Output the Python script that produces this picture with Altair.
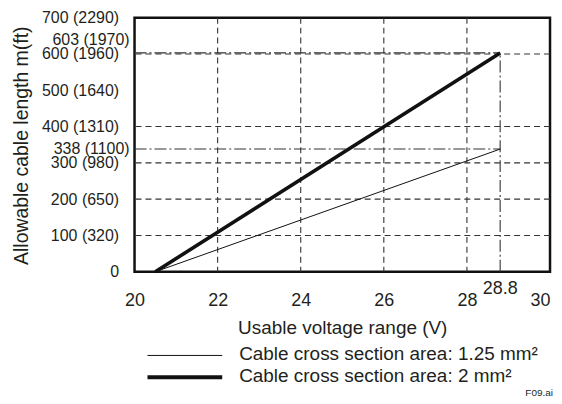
import altair as alt
import pandas as pd

# ---------------- data ----------------
voltage = [20.5, 28.8]
length_125 = [0, 338]
length_2 = [0, 603]
series = ["Cable cross section area: 1.25 mm\u00b2", "Cable cross section area: 2 mm\u00b2"]

x_ticks = [20, 22, 24, 26, 28, 30]
y_ticks = [0, 100, 200, 300, 400, 500, 600, 700]
y_ft = ["", "320", "650", "980", "1310", "1640", "1960", "2290"]

h_grid = [100, 200, 300, 400, 600]
v_grid = [22, 24, 26, 28]

max_v = 28.8
marked_m = [338, 603]
marked_ft = ["1100", "1970"]
note = "F09.ai"

# ---------------- style ----------------
W, H = 417, 255
FONT = "Liberation Sans"
TXT = "#231f20"
DASH = [6, 4]
DASHDOT = [12, 3, 2, 3]

label_expr = ""
for v, ft in zip(y_ticks, y_ft):
    lab = f"{v}" if ft == "" else f"{v} ({ft})"
    label_expr += f"datum.value == {v} ? '{lab}' : "
label_expr += "''"

xscale = alt.Scale(domain=[20, 30], nice=False, zero=False)
yscale = alt.Scale(domain=[0, 700], nice=False, zero=False)

xaxis = alt.Axis(values=x_ticks, title="Usable voltage range (V)", grid=False, ticks=False,
                 domain=False, labelFontSize=18, labelPadding=20, labelColor=TXT, labelFont=FONT,
                 labelFlush=False, labelOverlap=False, labelBound=False,
                 labelAlign={"condition": {"test": f"datum.value >= {x_ticks[-1]}", "value": "right"},
                             "value": "center"},
                 titleFont=FONT, titleFontSize=19, titleFontWeight="normal", titleColor=TXT,
                 titleX=W / 2, titleY=56, titleBaseline="middle", titleAlign="center")
yaxis = alt.Axis(values=y_ticks, labelExpr=label_expr, title="Allowable cable length  m(ft)",
                 grid=False, ticks=False, domain=False, labelFontSize=16, labelPadding=16,
                 labelColor=TXT, labelFont=FONT, labelOverlap=False, labelBaseline="middle",
                 labelFlush=False,
                 titleFont=FONT, titleFontSize=19.5, titleFontWeight="normal", titleColor=TXT,
                 titleX=-113, titleY=128, titleAngle=270, titleAlign="center",
                 titleBaseline="middle")


def X(field="v"):
    return alt.X(f"{field}:Q", scale=xscale, axis=xaxis)


def Y(field="m"):
    return alt.Y(f"{field}:Q", scale=yscale, axis=yaxis)


# grid lines
hgrid = alt.Chart(pd.DataFrame({"m": h_grid})).mark_rule(
    color="#333", strokeWidth=1.1, strokeDash=DASH).encode(y=Y())
vgrid = alt.Chart(pd.DataFrame({"v": v_grid})).mark_rule(
    color="#333", strokeWidth=1.1, strokeDash=DASH).encode(x=X())

# dash-dot marker lines
hmark = alt.Chart(pd.DataFrame({"v": [20, 20], "v2": [max_v, max_v], "m": marked_m})).mark_rule(
    color="#333", strokeWidth=1.1, strokeDash=DASHDOT).encode(x=X(), x2="v2:Q", y=Y())
vmark = alt.Chart(pd.DataFrame({"v": [max_v], "m0": [0], "m": [max(marked_m)]})).mark_rule(
    color="#333", strokeWidth=1.1, strokeDash=DASHDOT).encode(x=X(), y=Y("m0"), y2="m:Q")

# data lines
thin = alt.Chart(pd.DataFrame({"v": voltage, "m": length_125})).mark_line(
    color="#111", strokeWidth=1).encode(x=X(), y=Y())
thick = alt.Chart(pd.DataFrame({"v": voltage, "m": length_2})).mark_line(
    color="#111", strokeWidth=3.6).encode(x=X(), y=Y())

# extra y labels
lab603 = alt.Chart(pd.DataFrame({"m": [marked_m[1]], "t": [f"{marked_m[1]} ({marked_ft[1]})"]})).mark_text(
    align="right", baseline="middle", dy=-13, fontSize=16, font=FONT, color=TXT).encode(
    x=alt.value(-5), y=Y(), text="t:N")
lab338 = alt.Chart(pd.DataFrame({"m": [marked_m[0]], "t": [f"{marked_m[0]} ({marked_ft[0]})"]})).mark_text(
    align="right", baseline="middle", dy=0, fontSize=16, font=FONT, color=TXT).encode(
    x=alt.value(-5), y=Y(), text="t:N")

# extra x label
lab288 = alt.Chart(pd.DataFrame({"v": [max_v], "t": [f"{max_v}"]})).mark_text(
    align="center", baseline="middle", fontSize=18, font=FONT, color=TXT).encode(
    x=X(), y=alt.value(H + 17), text="t:N")

# legend
leg_rule1 = alt.Chart(pd.DataFrame({"s": [series[0]]})).mark_rule(color="#111", strokeWidth=1).encode(
    x=alt.value(13), x2=alt.value(88), y=alt.value(339))
leg_rule2 = alt.Chart(pd.DataFrame({"s": [series[1]]})).mark_rule(color="#111", strokeWidth=4).encode(
    x=alt.value(13), x2=alt.value(88), y=alt.value(361))
leg_txt1 = alt.Chart(pd.DataFrame({"s": [series[0]]})).mark_text(
    align="left", baseline="middle", fontSize=19, font=FONT, color=TXT).encode(
    x=alt.value(105), y=alt.value(338), text="s:N")
leg_txt2 = alt.Chart(pd.DataFrame({"s": [series[1]]})).mark_text(
    align="left", baseline="middle", fontSize=19, font=FONT, color=TXT).encode(
    x=alt.value(105), y=alt.value(360), text="s:N")

note_txt = alt.Chart(pd.DataFrame({"s": [note]})).mark_text(
    align="right", baseline="middle", fontSize=10, font=FONT, color=TXT).encode(
    x=alt.value(420), y=alt.value(377), text="s:N")

chart = alt.layer(
    hgrid, vgrid, hmark, vmark, thin, thick, lab603, lab338, lab288,
    leg_rule1, leg_rule2, leg_txt1, leg_txt2, note_txt
).properties(
    width=W, height=H,
    background="white",
    padding={"left": 127, "top": 9, "right": 4, "bottom": 128},
    autosize=alt.AutoSizeParams(type="none"),
).configure_view(
    stroke="#111", strokeWidth=2.5
)

chart.save("out.html", embed_options={"renderer": "svg", "actions": False})
